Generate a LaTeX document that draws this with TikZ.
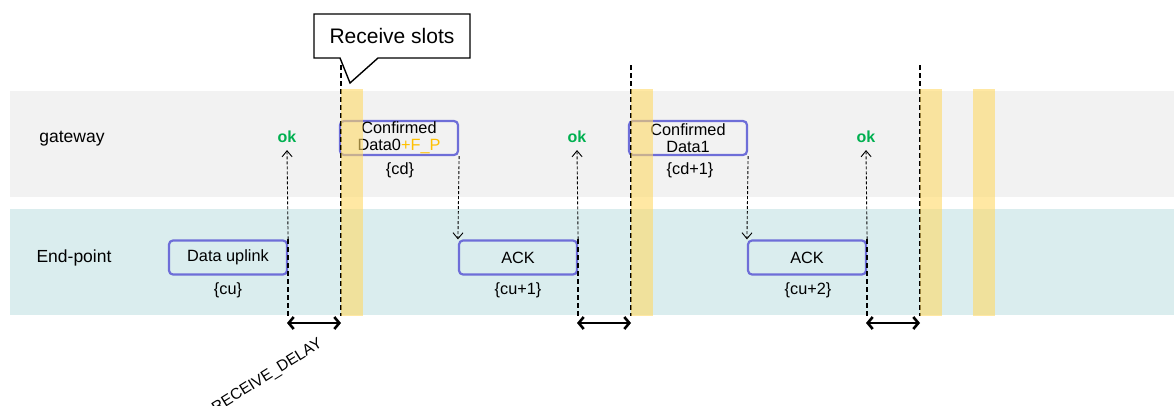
\documentclass[tikz,border=0pt]{standalone}
\usepackage{fontspec}
\setmainfont{Liberation Sans}
\usetikzlibrary{calc,arrows.meta}
\definecolor{gwgray}{HTML}{F2F2F2}
\definecolor{epteal}{HTML}{DAEDEE}
\definecolor{slotyellow}{HTML}{FFD966}
\definecolor{boxblue}{HTML}{6E6ED8}
\definecolor{okgreen}{HTML}{00B050}
\definecolor{fpyellow}{HTML}{FFC000}

\begin{document}
\begin{tikzpicture}[x=1pt,y=-1pt,
		msg/.style={draw=boxblue,line width=2.2pt,rounded corners=4pt,minimum width=118pt,minimum height=34pt,inner sep=0pt,align=center,font=\fontsize{16.3}{17}\selectfont},
		tag/.style={font=\fontsize{16.3}{17}\selectfont},
		oklabel/.style={text=okgreen,font=\fontsize{16}{17}\selectfont\bfseries,inner sep=1pt},
		okarrow/.style={-{Straight Barb[length=6pt,width=10pt]},line width=0.9pt,dash pattern=on 3pt off 2pt},
		slotline/.style={line width=1.6pt,dash pattern=on 5pt off 3pt},
		delay/.style={{Straight Barb[length=5pt,width=12pt]}-{Straight Barb[length=5pt,width=12pt]},line width=2.6pt},
		slot/.style={fill=slotyellow,fill opacity=0.6}]
		\useasboundingbox (0,0) rectangle (1174,405);
		\fill[gwgray] (10,91) rectangle (1174,197); %gateway
		\fill[epteal] (10,209) rectangle (1174,315); %end-point
		\node[font=\fontsize{17.5}{18}\selectfont] (gw) at (72,139) {gateway};
		\node[font=\fontsize{17.5}{18}\selectfont] (ep) at (74,258) {End-point};
		% messages
		\node[msg] (up) at (228,257.5) {Data uplink};
		\node[msg] (cd0) at (399,138) {Confirmed\\Data0\textcolor{fpyellow}{+F\_P}};
		\node[msg] (ack1) at (518,257.5) {ACK};
		\node[msg] (cd1) at (688,138) {Confirmed\\Data1};
		\node[msg] (ack2) at (807,257.5) {ACK};
		\node[tag] (cu) at (228,290) {\{cu\}};
		\node[tag] (cd) at (400,170) {\{cd\}};
		\node[tag] (cu1) at (518,290) {\{cu+1\}};
		\node[tag] (cd+1) at (690,170) {\{cd+1\}};
		\node[tag] (cu2) at (808,290) {\{cu+2\}};
		\node[oklabel] (ok1) at (287,137) {ok};
		\node[oklabel] (ok2) at (577,137) {ok};
		\node[oklabel] (ok3) at (866,137) {ok};
		% ok / down arrows
		\foreach \m/\o in {up/ok1,ack1/ok2,ack2/ok3}{
			\draw[okarrow] (\m.north east) -- ($(\o.south)+(0,6)$);
			\draw[slotline] (\m.north east) -- (\m.east |- 0,316);
		}
		\draw[okarrow] (cd0.south east) -- (ack1.north west);
		\draw[okarrow] (cd1.south east) -- (ack2.north west);
		% receive slots
		\foreach \x in {341,631,920}{
			\coordinate (t\x) at (\x,65);
			\coordinate (b\x) at (\x,316);
			\draw[slotline] (t\x) -- (b\x);
		}
		\foreach \a/\b in {287/341,577/631,866/920}{
			\coordinate (l\a) at (\a,323);
			\coordinate (r\b) at (\b,323);
			\draw[delay] (l\a) -- (r\b);
		}
		\foreach \x in {341,631,920,973}
			\fill[slot] (\x,89) rectangle ++(22,227);
		% callout
		\filldraw[fill=white,line width=1.4pt,line join=miter] (314,14) -- (470,14) -- (470,58) -- (378,58) -- (350,83) -- (340,58) -- (314,58) -- cycle;
		\node[font=\fontsize{21}{22}\selectfont] (rs) at (392,36) {Receive slots};
		\node[rotate=32,anchor=east,font=\fontsize{15.5}{16}\selectfont] (rd) at (324,341) {RECEIVE\_DELAY};
	\end{tikzpicture}
\end{document}
